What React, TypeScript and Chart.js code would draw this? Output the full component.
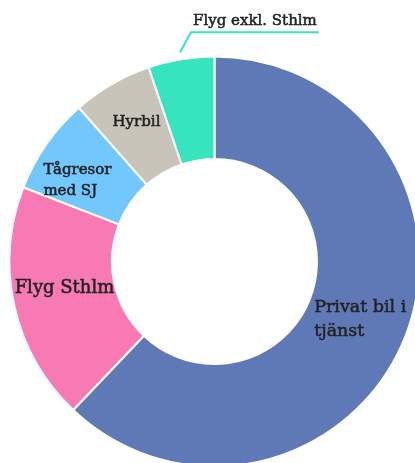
import React, { useEffect, useRef } from "react";
import { Chart, registerables } from "chart.js";

Chart.register(...registerables);

const categories = ["Privat bil i tjänst", "Flyg Sthlm", "Tågresor med SJ", "Hyrbil", "Flyg exkl. Sthlm"];
const labelLines = [["Privat bil i", "tjänst"], ["Flyg Sthlm"], ["Tågresor", "med SJ"], ["Hyrbil"], ["Flyg exkl. Sthlm"]];
const shares = [62.1, 18.8, 7.6, 6.3, 5.2];
const sliceColors = ["#5f79b7", "#f77ab4", "#72c7fd", "#c9c4b9", "#36e5bd"];
const labelFontSizes = [17.5, 18, 15, 15, 15];
const labelNudges = [[3, 1], [0, -7], [-11, 7], [-1, -6], [0, 0]];
const labelOutside = [false, false, false, false, true];

const FONT_FAMILY = '"DejaVu Serif", serif';

const labelPlugin = {
  id: "sliceLabels",
  afterDatasetsDraw(chart: any) {
    const ctx = chart.ctx;
    const meta = chart.getDatasetMeta(0);
    meta.data.forEach((arc: any, i: number) => {
      const p = arc.getProps(["x", "y", "startAngle", "endAngle", "innerRadius", "outerRadius"], true);
      const mid = (p.startAngle + p.endAngle) / 2;
      const dx = Math.cos(mid);
      const dy = Math.sin(mid);
      const size = labelFontSizes[i];
      ctx.save();
      ctx.font = `${size}px ${FONT_FAMILY}`;
      ctx.fillStyle = "#222222";
      ctx.strokeStyle = "#222222";
      ctx.lineWidth = 0.5;
      ctx.textAlign = "left";
      const draw = (t: string, x: number, y: number) => {
        ctx.fillText(t, x, y);
        ctx.strokeText(t, x, y);
      };
      if (labelOutside[i]) {
        const x1 = p.x + dx * (p.outerRadius + 7);
        const y1 = p.y + dy * (p.outerRadius + 7);
        const x2 = x1 + 11;
        const y2 = y1 - 20;
        const text = labelLines[i].join(" ");
        const w = ctx.measureText(text).width;
        ctx.save();
        ctx.strokeStyle = sliceColors[i];
        ctx.lineWidth = 2;
        ctx.beginPath();
        ctx.moveTo(x1, y1);
        ctx.lineTo(x2, y2);
        ctx.lineTo(x2 + w + 4, y2);
        ctx.stroke();
        ctx.restore();
        ctx.textBaseline = "alphabetic";
        draw(text, x2 + 2, y2 - 7);
      } else {
        const rMid = (p.innerRadius + p.outerRadius) / 2;
        const cx = p.x + dx * rMid + labelNudges[i][0];
        const cy = p.y + dy * rMid + labelNudges[i][1];
        const lines = labelLines[i];
        const lh = size * 1.38;
        const w = Math.max(...lines.map((l) => ctx.measureText(l).width));
        const left = cx - w / 2;
        const top = cy - (lines.length * lh) / 2;
        ctx.textBaseline = "middle";
        lines.forEach((l, j) => draw(l, left, top + lh * (j + 0.5)));
      }
      ctx.restore();
    });
  },
};

export default function App() {
  const ref = useRef<HTMLCanvasElement | null>(null);
  useEffect(() => {
    if (!ref.current) return;
    const chart = new Chart(ref.current, {
      type: "doughnut",
      data: {
        labels: categories,
        datasets: [
          {
            data: shares,
            backgroundColor: sliceColors,
            borderColor: "#ffffff",
            borderWidth: 2,
          },
        ],
      },
      options: {
        responsive: false,
        maintainAspectRatio: false,
        animation: false,
        radius: 205,
        cutout: "50%",
        layout: { padding: { left: 14, top: 60, right: 0, bottom: 0 } },
        plugins: {
          legend: { display: false },
          tooltip: { enabled: false },
        },
      },
      plugins: [labelPlugin],
    });
    return () => chart.destroy();
  }, []);
  return (
    <div style={{ position: "fixed", left: 0, top: 0, width: 415, height: 463, overflow: "hidden", background: "#fff" }}>
      <canvas ref={ref} width={415} height={463} style={{ display: "block" }} />
    </div>
  );
}
